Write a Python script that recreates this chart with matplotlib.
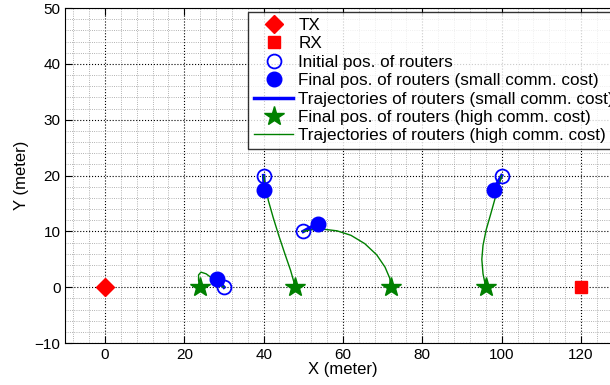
import matplotlib.pyplot as plt
from matplotlib.ticker import MultipleLocator

plt.rcParams['font.family'] = ['Liberation Sans', 'DejaVu Sans']

# transmitter / receiver
tx = (0, 0)
rx = (120, 0)

# router positions
init_x = [30, 40, 50, 100]
init_y = [0, 20, 10, 20]
final_small_x = [28.3, 40.2, 53.6, 98]
final_small_y = [1.4, 17.5, 11.4, 17.5]
final_high_x = [24, 48, 72, 96]
final_high_y = [0, 0, 0, 0]

# trajectories with high communication cost
traj_high = [
    ([30, 28.5, 27, 25.5, 24.2, 23.6, 23.6, 24], [0, 0.8, 1.6, 2.4, 2.7, 2.2, 1.2, 0]),
    ([40, 40.5, 41.2, 42.4, 43.8, 45.3, 46.8, 48], [20, 18, 15.5, 12.5, 9.3, 6.1, 3, 0]),
    ([50, 52, 55, 58.5, 62, 65.5, 68.5, 70.6, 71.8, 72], [10, 10.3, 10.4, 10.1, 9.3, 7.8, 5.8, 3.6, 1.6, 0]),
    ([100, 99.2, 98.3, 97.2, 96.1, 95.3, 95, 95.3, 96], [20, 18, 15.8, 13, 10.3, 7.5, 5, 2.4, 0]),
]

fig = plt.figure(figsize=(6.1, 3.85), dpi=100)
ax = fig.add_axes([0.107, 0.109, 0.9105, 0.870])

ax.plot(*tx, 'D', color='red', markersize=9, label='TX', zorder=5)
ax.plot(*rx, 's', color='red', markersize=8, label='RX', zorder=5)

for i in range(len(init_x)):
    ax.plot(init_x[i], init_y[i], 'o', mfc='none', mec='blue', mew=1.3,
            markersize=10, label='Initial pos. of routers' if i == 0 else None, zorder=4)
for i in range(len(init_x)):
    ax.plot(final_small_x[i], final_small_y[i], 'o', color='blue', markersize=10.5,
            label='Final pos. of routers (small comm. cost)' if i == 0 else None, zorder=4)
for i in range(len(init_x)):
    ax.plot([init_x[i], final_small_x[i]], [init_y[i], final_small_y[i]], '-',
            color='blue', lw=2.5,
            label='Trajectories of routers (small comm. cost)' if i == 0 else None, zorder=3)
for i in range(len(init_x)):
    ax.plot(final_high_x[i], final_high_y[i], '*', color='green', markersize=15,
            label='Final pos. of routers (high comm. cost)' if i == 0 else None, zorder=4)
for i, (tx_, ty_) in enumerate(traj_high):
    ax.plot(tx_, ty_, '-', color='green', lw=1,
            label='Trajectories of routers (high comm. cost)' if i == 0 else None, zorder=3)

ax.set_xlim(-10, 130)
ax.set_ylim(-10, 50)
ax.xaxis.set_major_locator(MultipleLocator(20))
ax.yaxis.set_major_locator(MultipleLocator(10))
ax.xaxis.set_minor_locator(MultipleLocator(4))
ax.yaxis.set_minor_locator(MultipleLocator(2))
ax.grid(True, which='major', color='black', ls=':', lw=0.8)
ax.grid(True, which='minor', color='0.6', ls=':', lw=0.6)
ax.tick_params(which='both', direction='in', top=True, right=False, labelsize=11)
ax.tick_params(which='major', length=5)
ax.tick_params(which='minor', length=0)
ax.spines['right'].set_visible(False)

ax.set_xlabel('X (meter)', fontsize=12, labelpad=0)
ax.set_ylabel('Y (meter)', fontsize=12, labelpad=4)

leg = ax.legend(loc='upper left', bbox_to_anchor=(248 / 610, 1 - 12 / 385),
                bbox_transform=fig.transFigure, fontsize=12.3, frameon=True,
                fancybox=False, edgecolor='black', borderpad=0.35,
                labelspacing=0.2, handlelength=2.3, handletextpad=0.3,
                borderaxespad=0, numpoints=1)
leg.get_frame().set_linewidth(1.0)

fig.savefig('out.png', dpi=100)
